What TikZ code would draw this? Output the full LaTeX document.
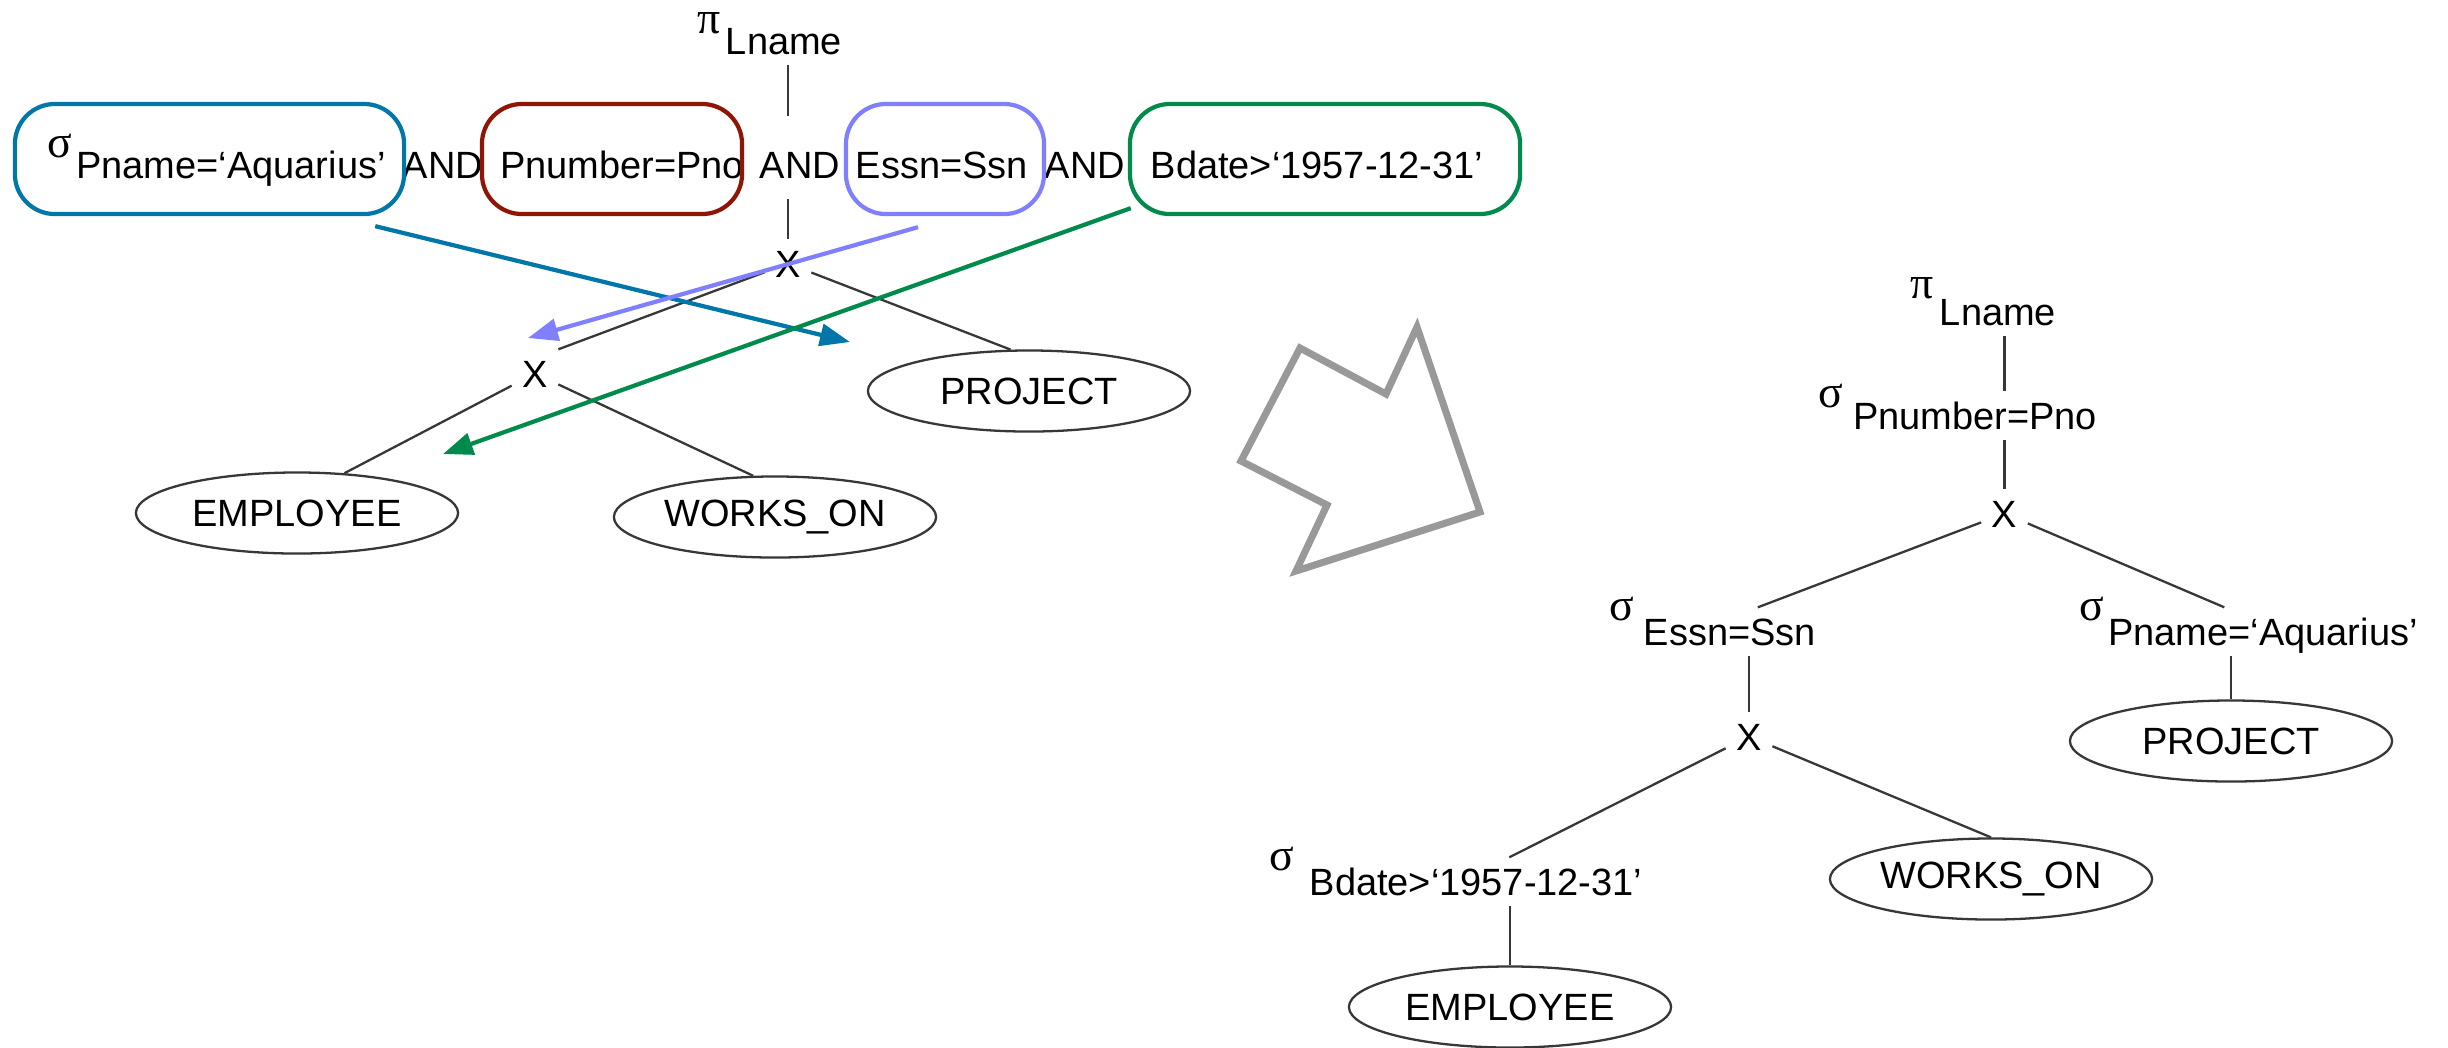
\documentclass[tikz,border=0pt]{standalone}
\usepackage{fontspec}
\setmainfont{Liberation Sans}
\newfontfamily\grkfont{Liberation Serif}
\usetikzlibrary{arrows.meta,calc,shapes.geometric}

\definecolor{selblue}{RGB}{0,119,168}
\definecolor{selred}{RGB}{143,21,5}
\definecolor{selviolet}{RGB}{128,128,255}
\definecolor{selgreen}{RGB}{0,138,76}
\definecolor{edgegray}{RGB}{55,55,55}
\definecolor{bigarrow}{RGB}{153,153,153}

\begin{document}
\begin{tikzpicture}[x=0.01cm, y=-0.01cm,
  every node/.style={font=\fontsize{10.8}{13}\selectfont},
  lbl/.style={anchor=base, inner sep=0.1cm, text height=0.27cm, text depth=0pt},
  greek/.style={anchor=base, inner sep=0pt, font=\fontsize{13}{15}\selectfont\grkfont},
  rel/.style={draw=edgegray, ellipse, line width=0.65pt, minimum width=3.22cm,
              minimum height=0.81cm, inner sep=0pt},
  edge/.style={draw=edgegray, line width=0.65pt},
  cbox/.style={draw=#1, line width=1.2pt, rounded corners=0.4cm,
               minimum height=1.1cm, inner sep=0pt},
  push/.style={draw=#1, line width=1.2pt, -{Triangle[length=0.3cm,width=0.22cm]}}]

% canvas
\path[fill=white] (0,0) rectangle (2448,1047);
\useasboundingbox (0,0) rectangle (2448,1047);

% ---------- initial tree: one combined selection ----------
\node[greek] (pi1) at (709,33) {π};
\node[lbl] (lname1) at (784,54) {Lname};

\node[greek] (sig1) at (60,157) {σ};
\node[lbl] (cpname) at (231,178) {Pname=‘Aquarius’};
\node[lbl] (and1) at (443,178) {AND};
\node[lbl] (cpnum) at (622,178) {Pnumber=Pno};
\node[lbl] (and2) at (800,178) {AND};
\node[lbl] (cessn) at (942,178) {Essn=Ssn};
\node[lbl] (and3) at (1085,178) {AND};
\node[lbl] (cbdate) at (1317,178) {Bdate>‘1957-12-31’};

% highlighted conditions
\node[cbox=selblue, minimum width=3.89cm] (bluebox) at (209.5,159) {};
\node[cbox=selred, minimum width=2.60cm] (redbox) at (612,159) {};
\node[cbox=selviolet, minimum width=1.98cm] (violetbox) at (945,159) {};
\node[cbox=selgreen, minimum width=3.90cm] (greenbox) at (1325,159) {};

\node[lbl] (x1) at (788,277) {X};
\node[lbl] (x2) at (535,387) {X};
\node[rel] (emp1) at (297,513) {EMPLOYEE};
\node[rel] (works1) at (775,517) {WORKS\_ON};
\node[rel] (proj1) at (1029,391) {PROJECT};

\coordinate (gapTop) at (788,116);
\coordinate (gapBot) at (788,199);
\draw[edge] (lname1.south -| x1) -- (gapTop);
\draw[edge] (gapBot) -- (x1);
\draw[edge] (x1) -- (x2.north east);
\draw[edge] (x1) -- (proj1.114);
\draw[edge] (x2) -- (emp1.40);
\draw[edge] (x2) -- (works1.118);

% ---------- transformation arrow ----------
\draw[draw=bigarrow, line width=2pt, line join=miter]
  (1300,348) -- (1386,394) -- (1417,327) -- (1480,512)
  -- (1296,571) -- (1327,505) -- (1241,461) -- cycle;

% ---------- tree with selections pushed down ----------
\node[greek] (pi2) at (1922,298) {π};
\node[lbl] (lname2) at (1998,325) {Lname};
\node[greek] (sig2) at (1831,407) {σ};
\node[lbl] (pnum2) at (1975,429) {Pnumber=Pno};
\node[lbl] (x3) at (2004.5,527) {X};
\node[greek] (sig3) at (1622,620) {σ};
\node[lbl] (essn2) at (1730,645) {Essn=Ssn};
\node[greek] (sig4) at (2092,620) {σ};
\node[lbl] (pname2) at (2263,645) {Pname=‘Aquarius’};
\node[rel] (proj2) at (2231,741) {PROJECT};
\node[lbl] (x4) at (1749,750) {X};
\node[greek] (sig5) at (1282,870) {σ};
\node[lbl] (bdate2) at (1476,895) {Bdate>‘1957-12-31’};
\node[rel] (works2) at (1991,879) {WORKS\_ON};
\node[rel] (emp2) at (1510,1007) {EMPLOYEE};

\draw[edge] (lname2.south -| x3) -- (pnum2.north -| x3);
\draw[edge] (pnum2.south -| x3) -- (x3);
\draw[edge] (x3) -- (essn2.41);
\draw[edge] (x3) -- (pname2.148);
\draw[edge] (pname2.south -| proj2) -- (proj2);
\draw[edge] (essn2.south -| x4) -- (x4);
\draw[edge] (x4) -- (bdate2.36);
\draw[edge] (bdate2.south -| emp2) -- (emp2);
\draw[edge] (x4) -- (works2.north);

% ---------- where each condition moves ----------
\coordinate (blueFrom) at ($(bluebox.south east)+(-31,10)$);
\coordinate (blueTip) at (850,342);
\coordinate (violetFrom) at ($(violetbox.south)+(-27,11)$);
\coordinate (violetTip) at (528,338);
\coordinate (greenFrom) at ($(greenbox.south west)+(3,-8)$);
\coordinate (greenTip) at (443,454);
\draw[push=selblue] (blueFrom) -- (blueTip);
\draw[push=selviolet] (violetFrom) -- (violetTip);
\draw[push=selgreen] (greenFrom) -- (greenTip);
\end{tikzpicture}
\end{document}
